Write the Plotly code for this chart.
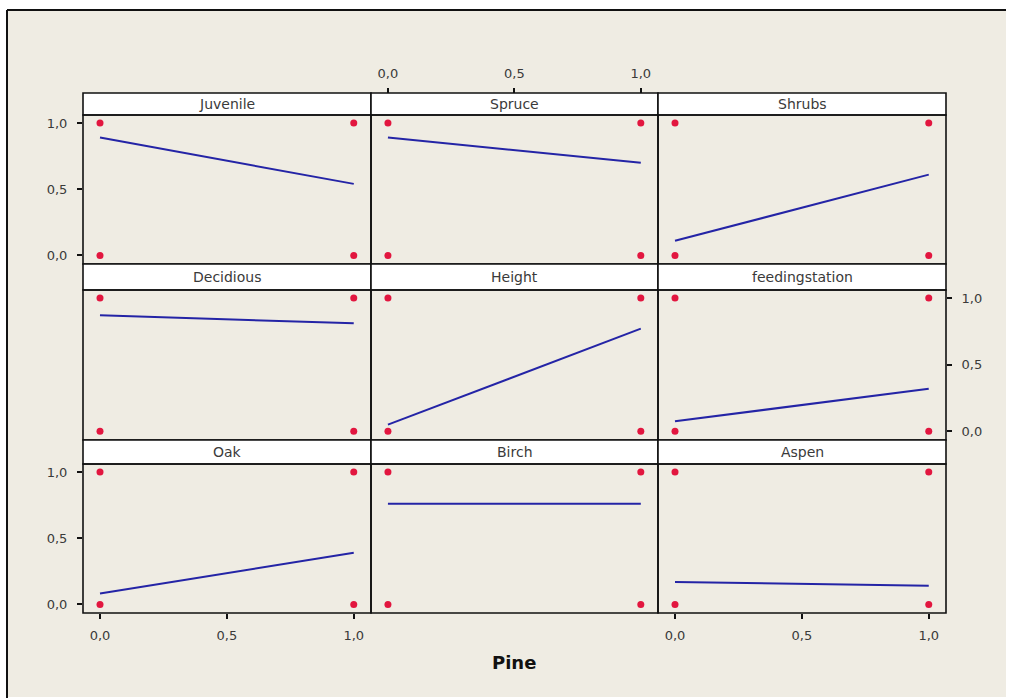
import plotly.graph_objects as go

# ---- data ----
panel_names = ["Juvenile", "Spruce", "Shrubs",
               "Decidious", "Height", "feedingstation",
               "Oak", "Birch", "Aspen"]
pine_x = [0.0, 1.0]
fit_at_0 = [0.89, 0.89, 0.11, 0.87, 0.05, 0.075, 0.083, 0.76, 0.17]
fit_at_1 = [0.54, 0.70, 0.61, 0.81, 0.77, 0.32, 0.39, 0.76, 0.14]
obs_x = [0, 0, 1, 1]
obs_y = [0, 1, 0, 1]
x_title = "Pine"

# ---- layout geometry (pixels) ----
W, H = 1013, 698
col_l = [83, 371, 658]
col_r = [371, 658, 946]
strip_t = [93, 264, 440]
strip_b = [115, 290, 464]
data_b = [264, 440, 613]
XR = [-0.067, 1.068]
YR = [-0.065, 1.06]

def px(x):
    return x / W

def py(y):
    return 1 - y / H

LINE = "#2424A6"
PT = "#E2163F"
TXT = "#3a3a3a"
FONT = "DejaVu Sans"

fig = go.Figure()
layout = {}
shapes = []
annotations = []

# background frame
shapes.append(dict(type="rect", xref="paper", yref="paper",
                   x0=px(7), x1=px(1006), y0=py(697), y1=py(10),
                   fillcolor="#EFECE3", line=dict(width=0), layer="below"))
shapes.append(dict(type="line", xref="paper", yref="paper",
                   x0=px(7), x1=px(1006), y0=py(10), y1=py(10),
                   line=dict(color="#111", width=2), layer="below"))
shapes.append(dict(type="line", xref="paper", yref="paper",
                   x0=px(7), x1=px(7), y0=py(10), y1=py(698),
                   line=dict(color="#111", width=2), layer="below"))

for i, name in enumerate(panel_names):
    r, c = divmod(i, 3)
    xa = "xaxis" if i == 0 else f"xaxis{i+1}"
    ya = "yaxis" if i == 0 else f"yaxis{i+1}"
    xs = "x" if i == 0 else f"x{i+1}"
    ys = "y" if i == 0 else f"y{i+1}"

    show_bottom = (r == 2 and c in (0, 2))
    show_left = (c == 0 and r in (0, 2))
    show_right = (c == 2 and r == 1)

    layout[xa] = dict(domain=[px(col_l[c]), px(col_r[c])], range=XR,
                      anchor=ys, showgrid=False, zeroline=False,
                      showline=False, fixedrange=True,
                      dtick=0.5, tick0=0, tickformat=".1f",
                      ticks="outside" if show_bottom else "",
                      ticklen=5, tickwidth=1.5, tickcolor="#111",
                      showticklabels=show_bottom,
                      ticklabelstandoff=5,
                      tickfont=dict(family=FONT, size=13, color=TXT))
    layout[ya] = dict(domain=[py(data_b[r]), py(strip_b[r])], range=YR,
                      anchor=xs, showgrid=False, zeroline=False,
                      showline=False, fixedrange=True,
                      side="right" if show_right else "left",
                      dtick=0.5, tick0=0, tickformat=".1f",
                      ticks="outside" if (show_left or show_right) else "",
                      ticklen=5, tickwidth=1.5, tickcolor="#111",
                      showticklabels=(show_left or show_right),
                      ticklabelstandoff=7,
                      tickfont=dict(family=FONT, size=13, color=TXT))

    fig.add_trace(go.Scatter(x=obs_x, y=obs_y, mode="markers",
                             marker=dict(color=PT, size=7, symbol="circle"),
                             xaxis=xs, yaxis=ys, showlegend=False,
                             hoverinfo="skip", cliponaxis=False))
    fig.add_trace(go.Scatter(x=pine_x, y=[fit_at_0[i], fit_at_1[i]],
                             mode="lines", line=dict(color=LINE, width=2),
                             xaxis=xs, yaxis=ys, showlegend=False))

    # strip
    shapes.append(dict(type="rect", xref="paper", yref="paper",
                       x0=px(col_l[c]), x1=px(col_r[c]),
                       y0=py(strip_b[r]), y1=py(strip_t[r]),
                       fillcolor="white", line=dict(color="#111", width=1.6),
                       layer="above"))
    # panel frame
    shapes.append(dict(type="rect", xref="paper", yref="paper",
                       x0=px(col_l[c]), x1=px(col_r[c]),
                       y0=py(data_b[r]), y1=py(strip_b[r]),
                       fillcolor="rgba(0,0,0,0)",
                       line=dict(color="#111", width=1.6), layer="above"))
    annotations.append(dict(xref="paper", yref="paper",
                            x=px((col_l[c] + col_r[c]) / 2),
                            y=py((strip_t[r] + strip_b[r]) / 2),
                            text=name, showarrow=False,
                            xanchor="center", yanchor="middle",
                            font=dict(family=FONT, size=14, color=TXT)))

# extra top axis over the middle column (above its strip)
layout["xaxis10"] = dict(overlaying="x2", anchor="free", position=py(93),
                         side="top", range=XR, showgrid=False, zeroline=False,
                         showline=False, fixedrange=True,
                         dtick=0.5, tick0=0, tickformat=".1f",
                         ticks="outside", ticklen=5, tickwidth=1.5,
                         tickcolor="#111", ticklabelstandoff=5,
                         tickfont=dict(family=FONT, size=13, color=TXT))
fig.add_trace(go.Scatter(x=[0.5], y=[0.5], mode="markers",
                         marker=dict(opacity=0), xaxis="x10", yaxis="y2",
                         showlegend=False, hoverinfo="skip"))

annotations.append(dict(xref="paper", yref="paper", x=px(514), y=py(662),
                        text="<b>" + x_title + "</b>", showarrow=False,
                        xanchor="center", yanchor="middle",
                        font=dict(family=FONT, size=18, color="#111")))

fig.update_layout(width=W, height=H, autosize=False,
                  margin=dict(l=0, r=0, t=0, b=0),
                  paper_bgcolor="white", plot_bgcolor="white",
                  separators=", ", shapes=shapes, annotations=annotations,
                  **layout)

fig.write_html("out.html", config={"displayModeBar": False},
               post_script="document.body.style.margin='0px';")
